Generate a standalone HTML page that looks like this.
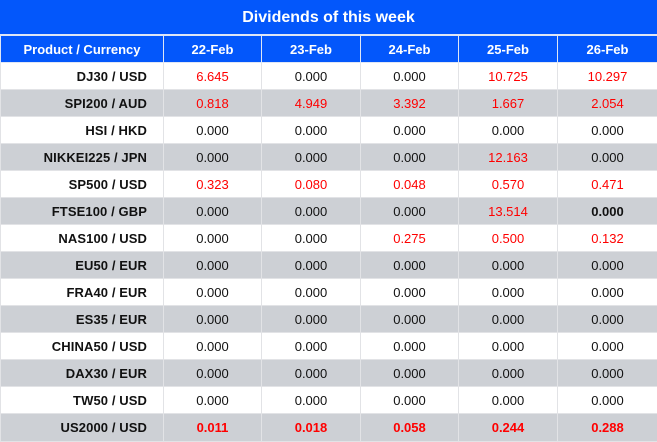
<!DOCTYPE html><html><head><style>
body{margin:0;width:657px;height:441px;overflow:hidden;background:#fff;font-family:"Liberation Sans",Arial,sans-serif}
.t{height:35px;background:#0357fb;color:#fff;font-weight:bold;font-size:16px;text-align:center;line-height:35px;border-bottom:1px solid #dfe6f5;box-sizing:border-box}
table{border-collapse:collapse;table-layout:fixed;width:657px}
td{height:27px;padding:0;font-size:13px;text-align:center;color:#111;border:1px solid #e2e3e6;box-sizing:border-box}
tr.h td{background:#0357fb;color:#fff;font-weight:bold;height:27px;border-color:#dfe6f5}
tr.l td{height:28px}
td:first-child{text-align:right;padding-right:16px;font-weight:bold;letter-spacing:0.1px;color:#111}
tr.h td:first-child{text-align:center;padding-right:0;letter-spacing:0;color:#fff}
tr:nth-child(odd):not(.h) td{background:#cdd0d5}
.r{color:#f00}.b{font-weight:bold}
</style></head><body>
<div class="t">Dividends of this week</div>
<table>
<colgroup><col style="width:163px"><col style="width:98px"><col style="width:99px"><col style="width:98px"><col style="width:99px"><col style="width:100px"></colgroup>
<tr class="h"><td>Product / Currency</td><td>22-Feb</td><td>23-Feb</td><td>24-Feb</td><td>25-Feb</td><td>26-Feb</td></tr>
<tr><td>DJ30 / USD</td><td class="r">6.645</td><td>0.000</td><td>0.000</td><td class="r">10.725</td><td class="r">10.297</td></tr>
<tr><td>SPI200 / AUD</td><td class="r">0.818</td><td class="r">4.949</td><td class="r">3.392</td><td class="r">1.667</td><td class="r">2.054</td></tr>
<tr><td>HSI / HKD</td><td>0.000</td><td>0.000</td><td>0.000</td><td>0.000</td><td>0.000</td></tr>
<tr><td>NIKKEI225 / JPN</td><td>0.000</td><td>0.000</td><td>0.000</td><td class="r">12.163</td><td>0.000</td></tr>
<tr><td>SP500 / USD</td><td class="r">0.323</td><td class="r">0.080</td><td class="r">0.048</td><td class="r">0.570</td><td class="r">0.471</td></tr>
<tr><td>FTSE100 / GBP</td><td>0.000</td><td>0.000</td><td>0.000</td><td class="r">13.514</td><td class="b">0.000</td></tr>
<tr><td>NAS100 / USD</td><td>0.000</td><td>0.000</td><td class="r">0.275</td><td class="r">0.500</td><td class="r">0.132</td></tr>
<tr><td>EU50 / EUR</td><td>0.000</td><td>0.000</td><td>0.000</td><td>0.000</td><td>0.000</td></tr>
<tr><td>FRA40 / EUR</td><td>0.000</td><td>0.000</td><td>0.000</td><td>0.000</td><td>0.000</td></tr>
<tr><td>ES35 / EUR</td><td>0.000</td><td>0.000</td><td>0.000</td><td>0.000</td><td>0.000</td></tr>
<tr><td>CHINA50 / USD</td><td>0.000</td><td>0.000</td><td>0.000</td><td>0.000</td><td>0.000</td></tr>
<tr><td>DAX30 / EUR</td><td>0.000</td><td>0.000</td><td>0.000</td><td>0.000</td><td>0.000</td></tr>
<tr><td>TW50 / USD</td><td>0.000</td><td>0.000</td><td>0.000</td><td>0.000</td><td>0.000</td></tr>
<tr class="l"><td>US2000 / USD</td><td class="r b">0.011</td><td class="r b">0.018</td><td class="r b">0.058</td><td class="r b">0.244</td><td class="r b">0.288</td></tr>
</table></body></html>
